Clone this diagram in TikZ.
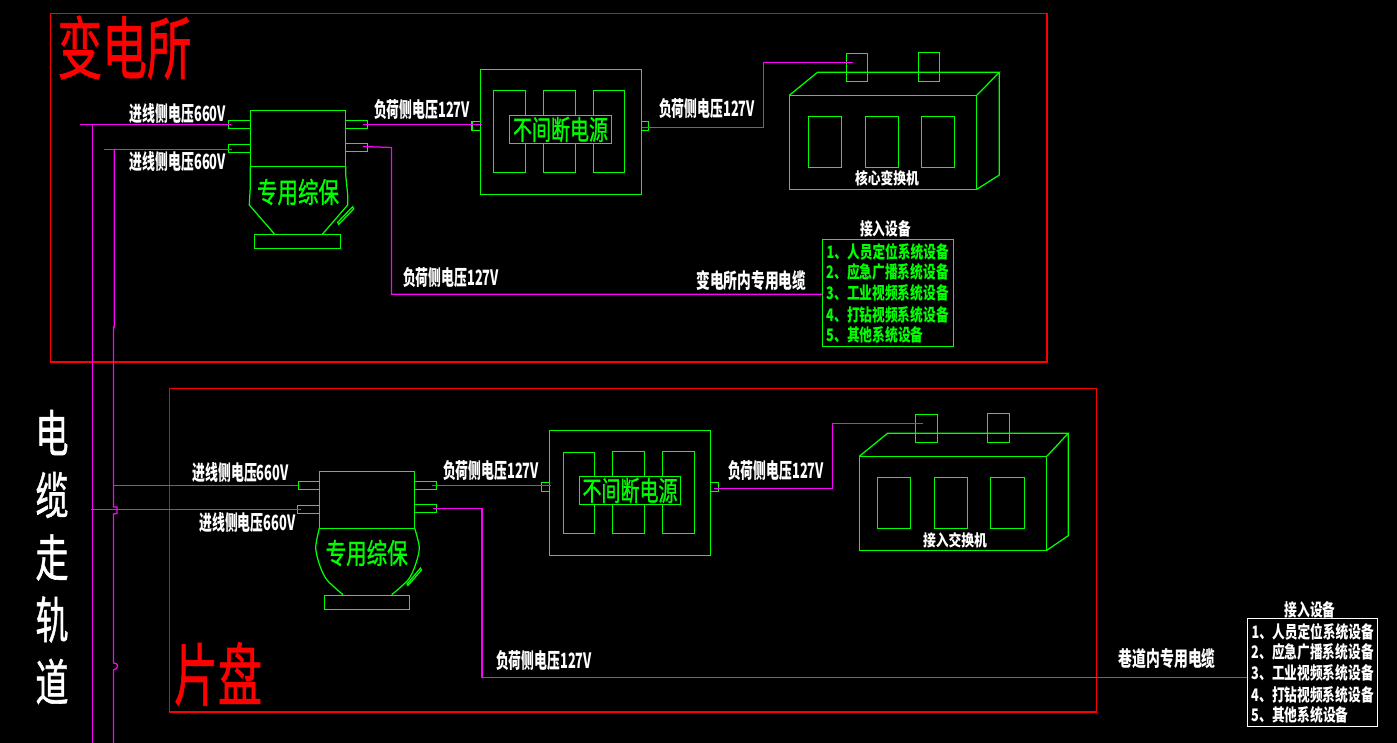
\documentclass[tikz,border=0pt]{standalone}
\usepackage{fontspec}
\usepackage{graphicx}
\newfontfamily\cjk{Noto Sans CJK SC}
\newfontfamily\cjkmid[FakeBold=1.2]{Noto Sans CJK SC}
\definecolor{cadgreen}{RGB}{0,255,0}
\definecolor{cadpink}{RGB}{255,0,255}
\definecolor{cadred}{RGB}{255,0,0}
% text block forced to a given width and height, in drawing units
\newcommand{\fitted}[3]{\resizebox{#1pt}{#2pt}{\cjk\bfseries #3}}
\newcommand{\fittedlight}[3]{\resizebox{#1pt}{#2pt}{\cjkmid #3}}
\tikzset{
  part/.style={draw=cadgreen,line width=1.25pt,inner sep=0pt,outer sep=0pt},
  wire/.style={draw=cadpink,line width=1.25pt},
  areaframe/.style={draw=cadred,line width=1.25pt,inner sep=0pt,outer sep=0pt},
  whitetext/.style={inner sep=0pt,outer sep=0pt,text=white},
  greentext/.style={inner sep=0pt,outer sep=0pt,text=cadgreen},
  redtext/.style={inner sep=0pt,outer sep=0pt,text=cadred},
}
% rectangular node given by its corners: [style] {name} x1 y1 x2 y2
\newcommand{\partbox}[6][]{%
  \pgfmathsetmacro{\bcx}{(#3+#5)/2}%
  \pgfmathsetmacro{\bcy}{(#4+#6)/2}%
  \pgfmathsetmacro{\bw}{abs(#5-#3)}%
  \pgfmathsetmacro{\bh}{abs(#6-#4)}%
  \node[part,minimum width=\bw pt,minimum height=\bh pt,#1] (#2) at (\bcx,\bcy) {};%
}
\begin{document}
\begin{tikzpicture}[x=1pt,y=-1pt]
\useasboundingbox[fill=black] (0,0) rectangle (1397,743);

% area frames
\partbox[areaframe]{frameA}{50.5}{13.5}{1047}{362}
\partbox[areaframe]{frameB}{169.5}{388.5}{1096.5}{712}

% substation protector
\partbox{pa}{250.3}{110.3}{345.7}{166.3}
\partbox{paInA}{228.3}{120.3}{250.3}{128.7}
\partbox{paInB}{228.3}{144.3}{250.3}{152.7}
\partbox{paOutA}{345.7}{120.3}{367.7}{128.7}
\partbox{paOutB}{345.7}{143.3}{367.7}{151.7}
\partbox{paBase}{254.3}{234.3}{340.7}{248.7}
\draw[part] (250.3,166.3) -- (250.3,187) -- (249.3,205) -- (274.7,234.3);
\draw[part] (345.7,166.3) -- (345.7,175) -- (347.7,195) -- (347.7,205) -- (322.3,234.3);
\draw[part] (337.7,222.3) -- (352.7,206.7) -- (353.7,209) -- (338.7,224.3) -- cycle;
\node[greentext] (paText) at (298,192) {\fittedlight{82}{24}{专用综保}};

% panel protector
\partbox{pb}{319.3}{471.3}{414.7}{528.3}
\partbox{pbInA}{298.3}{481.3}{319.3}{489.7}
\partbox{pbInB}{297.3}{505.3}{319.3}{513.7}
\partbox{pbOutA}{414.7}{481.3}{436.7}{489.7}
\partbox{pbOutB}{414.7}{504.3}{436.7}{512.7}
\partbox{pbBase}{324.3}{595.3}{409.7}{609.7}
\draw[part] plot[smooth] coordinates {(319.3,528.3) (315.7,548) (320,566) (327,580) (343,594.7)};
\draw[part] plot[smooth] coordinates {(414.7,528.3) (419.3,548) (415,566) (408,580) (391.7,594.7)};
\draw[part] (407,584) -- (420.5,568) -- (421.5,570) -- (408,585.5) -- cycle;
\node[greentext] (pbText) at (366.7,553) {\fittedlight{82}{24}{专用综保}};

% uninterruptible supply, substation
\partbox{ua}{480.4}{69.3}{641.8}{194.3}
\partbox{uaIn}{472.1}{121.3}{480.4}{130.7}
\partbox{uaOut}{641.8}{121.3}{648.6}{130.7}
\partbox{uaBarA}{493.2}{90.3}{525.7}{172.7}
\partbox{uaBarB}{543.2}{90.3}{575.7}{172.7}
\partbox{uaBarC}{593.2}{90.3}{624.6}{172.7}
\partbox[fill=black]{uaLabel}{509.3}{115.3}{611.8}{143.7}
\node[greentext] (uaText) at (560.5,129.5) {\fittedlight{95}{23}{不间断电源}};

% uninterruptible supply, panel
\partbox{ub}{549.3}{430.3}{710.7}{555.3}
\partbox{ubIn}{541.4}{482.3}{549.3}{491.7}
\partbox{ubOut}{710.7}{482.3}{718.6}{491.7}
\partbox{ubBarA}{563.2}{452.3}{594.6}{533.7}
\partbox{ubBarB}{612.5}{451.3}{644.6}{533.7}
\partbox{ubBarC}{662.5}{451.3}{694.6}{533.7}
\partbox[fill=black]{ubLabel}{579.3}{476.3}{680.7}{504.7}
\node[greentext] (ubText) at (630,490.5) {\fittedlight{95}{23}{不间断电源}};

% core switch
\partbox{sa}{789.3}{95.3}{976.8}{189.3}
\draw[part] (sa.north west) -- (817.5,72.3) -- (999.3,72.3) -- (sa.north east);
\draw[part] (999.3,72.3) -- (999.3,175) -- (sa.south east);
\partbox{saWinA}{808.2}{116.3}{841.8}{167.7}
\partbox{saWinB}{865.4}{116.3}{898.6}{167.7}
\partbox{saWinC}{921.4}{116.3}{954.6}{167.7}
\partbox{saPlugA}{846.4}{53.3}{867.5}{81.3}
\partbox{saPlugB}{918.2}{52.3}{939.6}{81.3}
\node[whitetext] (saText) at (887,178.3) {\fitted{64}{14}{核心变换机}};

% access switch
\partbox{sb}{859.3}{456.3}{1046.8}{550.3}
\draw[part] (sb.north west) -- (887.5,433.3) -- (1068.2,433.3) -- (sb.north east);
\draw[part] (1068.2,433.3) -- (1068.2,535.7) -- (sb.south east);
\partbox{sbWinA}{877.5}{477.3}{910.7}{528.7}
\partbox{sbWinB}{934.3}{477.3}{967.5}{528.7}
\partbox{sbWinC}{990.4}{477.3}{1024.6}{528.7}
\partbox{sbPlugA}{915.4}{414.3}{937.5}{442.7}
\partbox{sbPlugB}{987.5}{413.3}{1009.6}{442.7}
\node[whitetext] (sbText) at (955,540) {\fitted{64}{14}{接入交换机}};

% device lists
\partbox{listA}{822.3}{239.3}{953.7}{346.3}
\partbox[draw=white]{listB}{1247.3}{618.3}{1377.3}{726.7}
\node[whitetext] (listAHead) at (885.7,229.3) {\fitted{51}{15}{接入设备}};
\node[whitetext] (listBHead) at (1310,610) {\fitted{51}{15}{接入设备}};
\foreach \rowno/\yy/\tx/\ww in {1/251.7/1、人员定位系统设备/122, 2/272.3/2、应急广播系统设备/122, 3/293.3/3、工业视频系统设备/122, 4/314.7/4、打钻视频系统设备/122, 5/335/5、其他系统设备/97}{
  \node[greentext,anchor=west] (rowA\rowno) at (826.7,\yy) {\fitted{\ww}{15}{\tx}};
  \node[whitetext,anchor=west] (rowB\rowno) at (1251.7,\yy+379.8) {\fitted{\ww}{15}{\tx}};
}

% incoming feeders, with small hops over crossing lines
\coordinate (feedA) at (80,124.5);
\coordinate (feedB) at (104,149.3);
\coordinate (trunkAtop) at (92.3,124.5);
\coordinate (trunkAend) at (92.3,743);
\coordinate (trunkBtop) at (114.3,149.3);
\coordinate (trunkBend) at (113.5,743);
\coordinate (branchB) at (113.5,485.5);
\coordinate (tapB) at (91,509.5);
\draw[wire] (feedA) -- ([xshift=3pt]paInA.west);
\draw[wire] (feedB) -- ([xshift=4pt,yshift=-0.8pt]paInB.west);
\draw[wire] (trunkAtop) -- (trunkAend);
\draw[wire] (trunkBtop) -- (114.3,327) -- (113.5,327) -- (113.5,507)
  -- (117,507) -- (117,513.5) -- (113.5,514)
  -- (113.5,663) .. controls (119,662.5) and (119,669) .. (113.5,670) -- (trunkBend);
\draw[wire] (branchB) -- (pbInA.west);
\draw[wire] (tapB) -- ([xshift=3.5pt]pbInB.west);

% outgoing supply lines
\draw[wire] ([xshift=-5pt]paOutA.east) -- ([xshift=1.5pt]paOutA.east -| ua.west);
\draw[wire] ([xshift=-3.5pt,yshift=-1.3pt]uaOut.center) -| (763.6,62.3) -- ([xshift=-3.5pt]saPlugA.center |- 0,62.3);
\draw[wire] ([xshift=-4.7pt,yshift=1pt]paOutB.east) -- (391.5,147.5) |- (listA.west |- 0,294.3);
\draw[wire] ([xshift=-5pt]pbOutA.east) -- ([xshift=1.5pt]pbOutA.east -| ub.west);
\draw[wire] ([xshift=-4.3pt,yshift=-1.3pt]ubOut.east) -| (832.5,423.3) -- ([xshift=-3.5pt]sbPlugA.center |- 0,423.3);
\draw[wire] ([xshift=-3.7pt]pbOutB.east) -- (482,508.5) |- (listB.west |- 0,677.3);

% cable and voltage captions
\node[whitetext] (capInA) at (178,114) {\fitted{96}{18}{进线侧电压660V}};
\node[whitetext] (capInB) at (178,161.7) {\fitted{96}{18}{进线侧电压660V}};
\node[whitetext] (capInC) at (240.7,472.7) {\fitted{96}{18}{进线侧电压660V}};
\node[whitetext] (capInD) at (247.3,522.7) {\fitted{96}{18}{进线侧电压660V}};
\node[whitetext] (capOutA) at (422,110) {\fitted{96}{18}{负荷侧电压127V}};
\node[whitetext] (capOutB) at (707,109) {\fitted{96}{18}{负荷侧电压127V}};
\node[whitetext] (capOutC) at (491,471) {\fitted{96}{18}{负荷侧电压127V}};
\node[whitetext] (capOutD) at (776,470.7) {\fitted{96}{18}{负荷侧电压127V}};
\node[whitetext] (capOutE) at (451,278) {\fitted{96}{18}{负荷侧电压127V}};
\node[whitetext] (capOutF) at (544,661) {\fitted{96}{18}{负荷侧电压127V}};
\node[whitetext] (capCableA) at (751.3,281) {\fitted{110}{18}{变电所内专用电缆}};
\node[whitetext] (capCableB) at (1167.3,659) {\fitted{97}{18}{巷道内专用电缆}};

% area titles and the vertical cable-route title
\node[redtext] (titleA) at (124.5,47.5) {\fittedlight{134}{58}{变电所}};
\node[redtext] (titleB) at (218,674) {\fittedlight{88}{58}{片盘}};
\foreach \yy/\ch in {432.5/电,495/缆,557.5/走,619.5/轨,681.5/道}{
  \node[whitetext] (route\yy) at (52,\yy) {\fittedlight{33}{42}{\ch}};
}
\end{tikzpicture}
\end{document}
